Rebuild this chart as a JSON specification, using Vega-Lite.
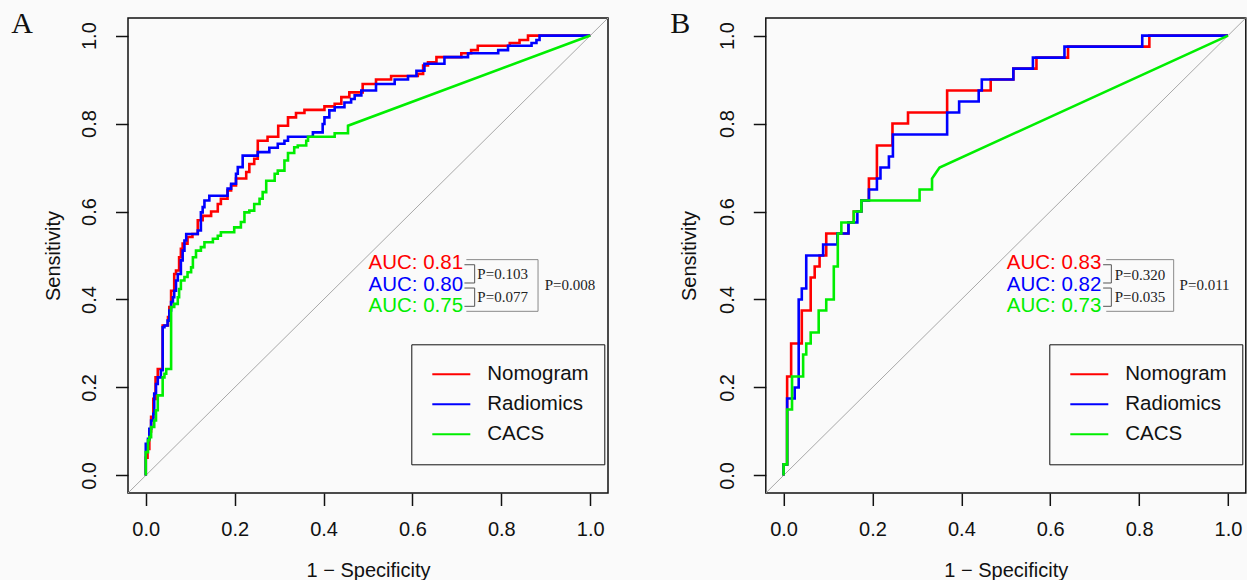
{
"$schema": "https://vega.github.io/schema/vega-lite/v6.json",
"background": "#fafafa",
"padding": {"left": 10, "top": 7, "right": 0, "bottom": 0},
"bounds": "flush",
"spacing": 157.8,
"config": {"view": {"stroke": "#111", "strokeWidth": 1.5}, "font": "Liberation Sans"},
"resolve": {"scale": {"color": "independent"}, "legend": {"color": "independent"}},
"datasets": {"roc": [
{"panel":"A","model":"Nomogram","fpr":0,"tpr":0},{"panel":"A","model":"Nomogram","fpr":0,"tpr":0.04},{"panel":"A","model":"Nomogram","fpr":0.004,"tpr":0.04},{"panel":"A","model":"Nomogram","fpr":0.004,"tpr":0.06},{"panel":"A","model":"Nomogram","fpr":0.008,"tpr":0.06},{"panel":"A","model":"Nomogram","fpr":0.008,"tpr":0.1},{"panel":"A","model":"Nomogram","fpr":0.012,"tpr":0.1},{"panel":"A","model":"Nomogram","fpr":0.012,"tpr":0.133},{"panel":"A","model":"Nomogram","fpr":0.017,"tpr":0.133},{"panel":"A","model":"Nomogram","fpr":0.017,"tpr":0.174},{"panel":"A","model":"Nomogram","fpr":0.022,"tpr":0.174},{"panel":"A","model":"Nomogram","fpr":0.022,"tpr":0.223},{"panel":"A","model":"Nomogram","fpr":0.027,"tpr":0.223},{"panel":"A","model":"Nomogram","fpr":0.027,"tpr":0.242},{"panel":"A","model":"Nomogram","fpr":0.038,"tpr":0.242},{"panel":"A","model":"Nomogram","fpr":0.038,"tpr":0.341},{"panel":"A","model":"Nomogram","fpr":0.05,"tpr":0.341},{"panel":"A","model":"Nomogram","fpr":0.05,"tpr":0.36},{"panel":"A","model":"Nomogram","fpr":0.053,"tpr":0.36},{"panel":"A","model":"Nomogram","fpr":0.053,"tpr":0.383},{"panel":"A","model":"Nomogram","fpr":0.057,"tpr":0.383},{"panel":"A","model":"Nomogram","fpr":0.057,"tpr":0.42},{"panel":"A","model":"Nomogram","fpr":0.064,"tpr":0.42},{"panel":"A","model":"Nomogram","fpr":0.064,"tpr":0.458},{"panel":"A","model":"Nomogram","fpr":0.068,"tpr":0.458},{"panel":"A","model":"Nomogram","fpr":0.068,"tpr":0.466},{"panel":"A","model":"Nomogram","fpr":0.075,"tpr":0.466},{"panel":"A","model":"Nomogram","fpr":0.075,"tpr":0.496},{"panel":"A","model":"Nomogram","fpr":0.079,"tpr":0.496},{"panel":"A","model":"Nomogram","fpr":0.079,"tpr":0.515},{"panel":"A","model":"Nomogram","fpr":0.083,"tpr":0.515},{"panel":"A","model":"Nomogram","fpr":0.083,"tpr":0.527},{"panel":"A","model":"Nomogram","fpr":0.094,"tpr":0.527},{"panel":"A","model":"Nomogram","fpr":0.094,"tpr":0.542},{"panel":"A","model":"Nomogram","fpr":0.105,"tpr":0.542},{"panel":"A","model":"Nomogram","fpr":0.105,"tpr":0.549},{"panel":"A","model":"Nomogram","fpr":0.117,"tpr":0.549},{"panel":"A","model":"Nomogram","fpr":0.117,"tpr":0.58},{"panel":"A","model":"Nomogram","fpr":0.128,"tpr":0.58},{"panel":"A","model":"Nomogram","fpr":0.128,"tpr":0.59},{"panel":"A","model":"Nomogram","fpr":0.147,"tpr":0.59},{"panel":"A","model":"Nomogram","fpr":0.147,"tpr":0.6},{"panel":"A","model":"Nomogram","fpr":0.162,"tpr":0.6},{"panel":"A","model":"Nomogram","fpr":0.162,"tpr":0.617},{"panel":"A","model":"Nomogram","fpr":0.169,"tpr":0.617},{"panel":"A","model":"Nomogram","fpr":0.169,"tpr":0.629},{"panel":"A","model":"Nomogram","fpr":0.184,"tpr":0.629},{"panel":"A","model":"Nomogram","fpr":0.184,"tpr":0.648},{"panel":"A","model":"Nomogram","fpr":0.192,"tpr":0.648},{"panel":"A","model":"Nomogram","fpr":0.192,"tpr":0.659},{"panel":"A","model":"Nomogram","fpr":0.203,"tpr":0.659},{"panel":"A","model":"Nomogram","fpr":0.203,"tpr":0.675},{"panel":"A","model":"Nomogram","fpr":0.226,"tpr":0.675},{"panel":"A","model":"Nomogram","fpr":0.226,"tpr":0.69},{"panel":"A","model":"Nomogram","fpr":0.233,"tpr":0.69},{"panel":"A","model":"Nomogram","fpr":0.233,"tpr":0.708},{"panel":"A","model":"Nomogram","fpr":0.244,"tpr":0.708},{"panel":"A","model":"Nomogram","fpr":0.244,"tpr":0.72},{"panel":"A","model":"Nomogram","fpr":0.252,"tpr":0.72},{"panel":"A","model":"Nomogram","fpr":0.252,"tpr":0.761},{"panel":"A","model":"Nomogram","fpr":0.274,"tpr":0.761},{"panel":"A","model":"Nomogram","fpr":0.274,"tpr":0.77},{"panel":"A","model":"Nomogram","fpr":0.298,"tpr":0.77},{"panel":"A","model":"Nomogram","fpr":0.298,"tpr":0.795},{"panel":"A","model":"Nomogram","fpr":0.32,"tpr":0.795},{"panel":"A","model":"Nomogram","fpr":0.32,"tpr":0.814},{"panel":"A","model":"Nomogram","fpr":0.338,"tpr":0.814},{"panel":"A","model":"Nomogram","fpr":0.338,"tpr":0.824},{"panel":"A","model":"Nomogram","fpr":0.357,"tpr":0.824},{"panel":"A","model":"Nomogram","fpr":0.357,"tpr":0.831},{"panel":"A","model":"Nomogram","fpr":0.402,"tpr":0.831},{"panel":"A","model":"Nomogram","fpr":0.402,"tpr":0.839},{"panel":"A","model":"Nomogram","fpr":0.425,"tpr":0.839},{"panel":"A","model":"Nomogram","fpr":0.425,"tpr":0.845},{"panel":"A","model":"Nomogram","fpr":0.44,"tpr":0.845},{"panel":"A","model":"Nomogram","fpr":0.44,"tpr":0.86},{"panel":"A","model":"Nomogram","fpr":0.458,"tpr":0.86},{"panel":"A","model":"Nomogram","fpr":0.458,"tpr":0.871},{"panel":"A","model":"Nomogram","fpr":0.488,"tpr":0.871},{"panel":"A","model":"Nomogram","fpr":0.488,"tpr":0.89},{"panel":"A","model":"Nomogram","fpr":0.518,"tpr":0.89},{"panel":"A","model":"Nomogram","fpr":0.518,"tpr":0.9},{"panel":"A","model":"Nomogram","fpr":0.552,"tpr":0.9},{"panel":"A","model":"Nomogram","fpr":0.552,"tpr":0.908},{"panel":"A","model":"Nomogram","fpr":0.612,"tpr":0.908},{"panel":"A","model":"Nomogram","fpr":0.612,"tpr":0.913},{"panel":"A","model":"Nomogram","fpr":0.624,"tpr":0.913},{"panel":"A","model":"Nomogram","fpr":0.624,"tpr":0.932},{"panel":"A","model":"Nomogram","fpr":0.635,"tpr":0.932},{"panel":"A","model":"Nomogram","fpr":0.635,"tpr":0.939},{"panel":"A","model":"Nomogram","fpr":0.654,"tpr":0.939},{"panel":"A","model":"Nomogram","fpr":0.654,"tpr":0.951},{"panel":"A","model":"Nomogram","fpr":0.71,"tpr":0.951},{"panel":"A","model":"Nomogram","fpr":0.71,"tpr":0.96},{"panel":"A","model":"Nomogram","fpr":0.732,"tpr":0.96},{"panel":"A","model":"Nomogram","fpr":0.732,"tpr":0.967},{"panel":"A","model":"Nomogram","fpr":0.747,"tpr":0.967},{"panel":"A","model":"Nomogram","fpr":0.747,"tpr":0.977},{"panel":"A","model":"Nomogram","fpr":0.819,"tpr":0.977},{"panel":"A","model":"Nomogram","fpr":0.819,"tpr":0.983},{"panel":"A","model":"Nomogram","fpr":0.841,"tpr":0.983},{"panel":"A","model":"Nomogram","fpr":0.841,"tpr":0.99},{"panel":"A","model":"Nomogram","fpr":0.86,"tpr":0.99},{"panel":"A","model":"Nomogram","fpr":0.86,"tpr":1},{"panel":"A","model":"Nomogram","fpr":1,"tpr":1},
{"panel":"A","model":"Radiomics","fpr":0,"tpr":0},{"panel":"A","model":"Radiomics","fpr":0,"tpr":0.072},{"panel":"A","model":"Radiomics","fpr":0.005,"tpr":0.072},{"panel":"A","model":"Radiomics","fpr":0.005,"tpr":0.083},{"panel":"A","model":"Radiomics","fpr":0.008,"tpr":0.083},{"panel":"A","model":"Radiomics","fpr":0.008,"tpr":0.106},{"panel":"A","model":"Radiomics","fpr":0.012,"tpr":0.106},{"panel":"A","model":"Radiomics","fpr":0.012,"tpr":0.125},{"panel":"A","model":"Radiomics","fpr":0.017,"tpr":0.125},{"panel":"A","model":"Radiomics","fpr":0.017,"tpr":0.14},{"panel":"A","model":"Radiomics","fpr":0.019,"tpr":0.14},{"panel":"A","model":"Radiomics","fpr":0.019,"tpr":0.186},{"panel":"A","model":"Radiomics","fpr":0.023,"tpr":0.186},{"panel":"A","model":"Radiomics","fpr":0.023,"tpr":0.208},{"panel":"A","model":"Radiomics","fpr":0.027,"tpr":0.208},{"panel":"A","model":"Radiomics","fpr":0.027,"tpr":0.223},{"panel":"A","model":"Radiomics","fpr":0.034,"tpr":0.223},{"panel":"A","model":"Radiomics","fpr":0.034,"tpr":0.239},{"panel":"A","model":"Radiomics","fpr":0.038,"tpr":0.239},{"panel":"A","model":"Radiomics","fpr":0.038,"tpr":0.337},{"panel":"A","model":"Radiomics","fpr":0.042,"tpr":0.337},{"panel":"A","model":"Radiomics","fpr":0.042,"tpr":0.341},{"panel":"A","model":"Radiomics","fpr":0.049,"tpr":0.341},{"panel":"A","model":"Radiomics","fpr":0.049,"tpr":0.352},{"panel":"A","model":"Radiomics","fpr":0.053,"tpr":0.352},{"panel":"A","model":"Radiomics","fpr":0.053,"tpr":0.375},{"panel":"A","model":"Radiomics","fpr":0.057,"tpr":0.375},{"panel":"A","model":"Radiomics","fpr":0.057,"tpr":0.394},{"panel":"A","model":"Radiomics","fpr":0.061,"tpr":0.394},{"panel":"A","model":"Radiomics","fpr":0.061,"tpr":0.405},{"panel":"A","model":"Radiomics","fpr":0.064,"tpr":0.405},{"panel":"A","model":"Radiomics","fpr":0.064,"tpr":0.42},{"panel":"A","model":"Radiomics","fpr":0.068,"tpr":0.42},{"panel":"A","model":"Radiomics","fpr":0.068,"tpr":0.443},{"panel":"A","model":"Radiomics","fpr":0.072,"tpr":0.443},{"panel":"A","model":"Radiomics","fpr":0.072,"tpr":0.458},{"panel":"A","model":"Radiomics","fpr":0.079,"tpr":0.458},{"panel":"A","model":"Radiomics","fpr":0.079,"tpr":0.489},{"panel":"A","model":"Radiomics","fpr":0.083,"tpr":0.489},{"panel":"A","model":"Radiomics","fpr":0.083,"tpr":0.511},{"panel":"A","model":"Radiomics","fpr":0.087,"tpr":0.511},{"panel":"A","model":"Radiomics","fpr":0.087,"tpr":0.534},{"panel":"A","model":"Radiomics","fpr":0.091,"tpr":0.534},{"panel":"A","model":"Radiomics","fpr":0.091,"tpr":0.549},{"panel":"A","model":"Radiomics","fpr":0.117,"tpr":0.549},{"panel":"A","model":"Radiomics","fpr":0.117,"tpr":0.557},{"panel":"A","model":"Radiomics","fpr":0.124,"tpr":0.557},{"panel":"A","model":"Radiomics","fpr":0.124,"tpr":0.598},{"panel":"A","model":"Radiomics","fpr":0.128,"tpr":0.598},{"panel":"A","model":"Radiomics","fpr":0.128,"tpr":0.61},{"panel":"A","model":"Radiomics","fpr":0.132,"tpr":0.61},{"panel":"A","model":"Radiomics","fpr":0.132,"tpr":0.625},{"panel":"A","model":"Radiomics","fpr":0.143,"tpr":0.625},{"panel":"A","model":"Radiomics","fpr":0.143,"tpr":0.636},{"panel":"A","model":"Radiomics","fpr":0.184,"tpr":0.636},{"panel":"A","model":"Radiomics","fpr":0.184,"tpr":0.652},{"panel":"A","model":"Radiomics","fpr":0.192,"tpr":0.652},{"panel":"A","model":"Radiomics","fpr":0.192,"tpr":0.663},{"panel":"A","model":"Radiomics","fpr":0.203,"tpr":0.663},{"panel":"A","model":"Radiomics","fpr":0.203,"tpr":0.686},{"panel":"A","model":"Radiomics","fpr":0.207,"tpr":0.686},{"panel":"A","model":"Radiomics","fpr":0.207,"tpr":0.701},{"panel":"A","model":"Radiomics","fpr":0.218,"tpr":0.701},{"panel":"A","model":"Radiomics","fpr":0.218,"tpr":0.727},{"panel":"A","model":"Radiomics","fpr":0.252,"tpr":0.727},{"panel":"A","model":"Radiomics","fpr":0.252,"tpr":0.735},{"panel":"A","model":"Radiomics","fpr":0.278,"tpr":0.735},{"panel":"A","model":"Radiomics","fpr":0.278,"tpr":0.745},{"panel":"A","model":"Radiomics","fpr":0.297,"tpr":0.745},{"panel":"A","model":"Radiomics","fpr":0.297,"tpr":0.754},{"panel":"A","model":"Radiomics","fpr":0.312,"tpr":0.754},{"panel":"A","model":"Radiomics","fpr":0.312,"tpr":0.761},{"panel":"A","model":"Radiomics","fpr":0.32,"tpr":0.761},{"panel":"A","model":"Radiomics","fpr":0.32,"tpr":0.77},{"panel":"A","model":"Radiomics","fpr":0.376,"tpr":0.77},{"panel":"A","model":"Radiomics","fpr":0.376,"tpr":0.78},{"panel":"A","model":"Radiomics","fpr":0.398,"tpr":0.78},{"panel":"A","model":"Radiomics","fpr":0.398,"tpr":0.799},{"panel":"A","model":"Radiomics","fpr":0.402,"tpr":0.799},{"panel":"A","model":"Radiomics","fpr":0.402,"tpr":0.814},{"panel":"A","model":"Radiomics","fpr":0.413,"tpr":0.814},{"panel":"A","model":"Radiomics","fpr":0.413,"tpr":0.83},{"panel":"A","model":"Radiomics","fpr":0.425,"tpr":0.83},{"panel":"A","model":"Radiomics","fpr":0.425,"tpr":0.837},{"panel":"A","model":"Radiomics","fpr":0.447,"tpr":0.837},{"panel":"A","model":"Radiomics","fpr":0.447,"tpr":0.848},{"panel":"A","model":"Radiomics","fpr":0.462,"tpr":0.848},{"panel":"A","model":"Radiomics","fpr":0.462,"tpr":0.856},{"panel":"A","model":"Radiomics","fpr":0.47,"tpr":0.856},{"panel":"A","model":"Radiomics","fpr":0.47,"tpr":0.864},{"panel":"A","model":"Radiomics","fpr":0.485,"tpr":0.864},{"panel":"A","model":"Radiomics","fpr":0.485,"tpr":0.875},{"panel":"A","model":"Radiomics","fpr":0.518,"tpr":0.875},{"panel":"A","model":"Radiomics","fpr":0.518,"tpr":0.89},{"panel":"A","model":"Radiomics","fpr":0.56,"tpr":0.89},{"panel":"A","model":"Radiomics","fpr":0.56,"tpr":0.9},{"panel":"A","model":"Radiomics","fpr":0.59,"tpr":0.9},{"panel":"A","model":"Radiomics","fpr":0.59,"tpr":0.908},{"panel":"A","model":"Radiomics","fpr":0.609,"tpr":0.908},{"panel":"A","model":"Radiomics","fpr":0.609,"tpr":0.92},{"panel":"A","model":"Radiomics","fpr":0.627,"tpr":0.92},{"panel":"A","model":"Radiomics","fpr":0.627,"tpr":0.936},{"panel":"A","model":"Radiomics","fpr":0.672,"tpr":0.936},{"panel":"A","model":"Radiomics","fpr":0.672,"tpr":0.951},{"panel":"A","model":"Radiomics","fpr":0.725,"tpr":0.951},{"panel":"A","model":"Radiomics","fpr":0.725,"tpr":0.96},{"panel":"A","model":"Radiomics","fpr":0.793,"tpr":0.96},{"panel":"A","model":"Radiomics","fpr":0.793,"tpr":0.967},{"panel":"A","model":"Radiomics","fpr":0.815,"tpr":0.967},{"panel":"A","model":"Radiomics","fpr":0.815,"tpr":0.977},{"panel":"A","model":"Radiomics","fpr":0.868,"tpr":0.977},{"panel":"A","model":"Radiomics","fpr":0.868,"tpr":0.983},{"panel":"A","model":"Radiomics","fpr":0.879,"tpr":0.983},{"panel":"A","model":"Radiomics","fpr":0.879,"tpr":0.99},{"panel":"A","model":"Radiomics","fpr":0.886,"tpr":0.99},{"panel":"A","model":"Radiomics","fpr":0.886,"tpr":1},{"panel":"A","model":"Radiomics","fpr":1,"tpr":1},
{"panel":"A","model":"CACS","fpr":0,"tpr":0},{"panel":"A","model":"CACS","fpr":0,"tpr":0.053},{"panel":"A","model":"CACS","fpr":0.005,"tpr":0.053},{"panel":"A","model":"CACS","fpr":0.005,"tpr":0.08},{"panel":"A","model":"CACS","fpr":0.008,"tpr":0.08},{"panel":"A","model":"CACS","fpr":0.008,"tpr":0.087},{"panel":"A","model":"CACS","fpr":0.012,"tpr":0.087},{"panel":"A","model":"CACS","fpr":0.012,"tpr":0.11},{"panel":"A","model":"CACS","fpr":0.019,"tpr":0.11},{"panel":"A","model":"CACS","fpr":0.019,"tpr":0.125},{"panel":"A","model":"CACS","fpr":0.023,"tpr":0.125},{"panel":"A","model":"CACS","fpr":0.023,"tpr":0.148},{"panel":"A","model":"CACS","fpr":0.027,"tpr":0.148},{"panel":"A","model":"CACS","fpr":0.027,"tpr":0.182},{"panel":"A","model":"CACS","fpr":0.038,"tpr":0.182},{"panel":"A","model":"CACS","fpr":0.038,"tpr":0.223},{"panel":"A","model":"CACS","fpr":0.042,"tpr":0.223},{"panel":"A","model":"CACS","fpr":0.042,"tpr":0.231},{"panel":"A","model":"CACS","fpr":0.046,"tpr":0.231},{"panel":"A","model":"CACS","fpr":0.046,"tpr":0.242},{"panel":"A","model":"CACS","fpr":0.057,"tpr":0.242},{"panel":"A","model":"CACS","fpr":0.057,"tpr":0.383},{"panel":"A","model":"CACS","fpr":0.064,"tpr":0.383},{"panel":"A","model":"CACS","fpr":0.064,"tpr":0.39},{"panel":"A","model":"CACS","fpr":0.072,"tpr":0.39},{"panel":"A","model":"CACS","fpr":0.072,"tpr":0.405},{"panel":"A","model":"CACS","fpr":0.075,"tpr":0.405},{"panel":"A","model":"CACS","fpr":0.075,"tpr":0.424},{"panel":"A","model":"CACS","fpr":0.079,"tpr":0.424},{"panel":"A","model":"CACS","fpr":0.079,"tpr":0.443},{"panel":"A","model":"CACS","fpr":0.087,"tpr":0.443},{"panel":"A","model":"CACS","fpr":0.087,"tpr":0.451},{"panel":"A","model":"CACS","fpr":0.094,"tpr":0.451},{"panel":"A","model":"CACS","fpr":0.094,"tpr":0.462},{"panel":"A","model":"CACS","fpr":0.102,"tpr":0.462},{"panel":"A","model":"CACS","fpr":0.102,"tpr":0.473},{"panel":"A","model":"CACS","fpr":0.106,"tpr":0.473},{"panel":"A","model":"CACS","fpr":0.106,"tpr":0.496},{"panel":"A","model":"CACS","fpr":0.113,"tpr":0.496},{"panel":"A","model":"CACS","fpr":0.113,"tpr":0.511},{"panel":"A","model":"CACS","fpr":0.124,"tpr":0.511},{"panel":"A","model":"CACS","fpr":0.124,"tpr":0.519},{"panel":"A","model":"CACS","fpr":0.132,"tpr":0.519},{"panel":"A","model":"CACS","fpr":0.132,"tpr":0.53},{"panel":"A","model":"CACS","fpr":0.151,"tpr":0.53},{"panel":"A","model":"CACS","fpr":0.151,"tpr":0.538},{"panel":"A","model":"CACS","fpr":0.162,"tpr":0.538},{"panel":"A","model":"CACS","fpr":0.162,"tpr":0.545},{"panel":"A","model":"CACS","fpr":0.169,"tpr":0.545},{"panel":"A","model":"CACS","fpr":0.169,"tpr":0.553},{"panel":"A","model":"CACS","fpr":0.199,"tpr":0.553},{"panel":"A","model":"CACS","fpr":0.199,"tpr":0.564},{"panel":"A","model":"CACS","fpr":0.214,"tpr":0.564},{"panel":"A","model":"CACS","fpr":0.214,"tpr":0.576},{"panel":"A","model":"CACS","fpr":0.222,"tpr":0.576},{"panel":"A","model":"CACS","fpr":0.222,"tpr":0.598},{"panel":"A","model":"CACS","fpr":0.233,"tpr":0.598},{"panel":"A","model":"CACS","fpr":0.233,"tpr":0.602},{"panel":"A","model":"CACS","fpr":0.244,"tpr":0.602},{"panel":"A","model":"CACS","fpr":0.244,"tpr":0.617},{"panel":"A","model":"CACS","fpr":0.256,"tpr":0.617},{"panel":"A","model":"CACS","fpr":0.256,"tpr":0.629},{"panel":"A","model":"CACS","fpr":0.263,"tpr":0.629},{"panel":"A","model":"CACS","fpr":0.263,"tpr":0.644},{"panel":"A","model":"CACS","fpr":0.271,"tpr":0.644},{"panel":"A","model":"CACS","fpr":0.271,"tpr":0.67},{"panel":"A","model":"CACS","fpr":0.29,"tpr":0.67},{"panel":"A","model":"CACS","fpr":0.29,"tpr":0.686},{"panel":"A","model":"CACS","fpr":0.297,"tpr":0.686},{"panel":"A","model":"CACS","fpr":0.297,"tpr":0.693},{"panel":"A","model":"CACS","fpr":0.312,"tpr":0.693},{"panel":"A","model":"CACS","fpr":0.312,"tpr":0.716},{"panel":"A","model":"CACS","fpr":0.32,"tpr":0.716},{"panel":"A","model":"CACS","fpr":0.32,"tpr":0.733},{"panel":"A","model":"CACS","fpr":0.334,"tpr":0.733},{"panel":"A","model":"CACS","fpr":0.334,"tpr":0.746},{"panel":"A","model":"CACS","fpr":0.342,"tpr":0.746},{"panel":"A","model":"CACS","fpr":0.342,"tpr":0.75},{"panel":"A","model":"CACS","fpr":0.361,"tpr":0.75},{"panel":"A","model":"CACS","fpr":0.361,"tpr":0.761},{"panel":"A","model":"CACS","fpr":0.365,"tpr":0.761},{"panel":"A","model":"CACS","fpr":0.365,"tpr":0.77},{"panel":"A","model":"CACS","fpr":0.425,"tpr":0.77},{"panel":"A","model":"CACS","fpr":0.425,"tpr":0.778},{"panel":"A","model":"CACS","fpr":0.455,"tpr":0.778},{"panel":"A","model":"CACS","fpr":0.455,"tpr":0.795},{"panel":"A","model":"CACS","fpr":1,"tpr":1},
{"panel":"B","model":"Nomogram","fpr":0,"tpr":0},{"panel":"B","model":"Nomogram","fpr":0,"tpr":0.025},{"panel":"B","model":"Nomogram","fpr":0.008,"tpr":0.025},{"panel":"B","model":"Nomogram","fpr":0.008,"tpr":0.225},{"panel":"B","model":"Nomogram","fpr":0.017,"tpr":0.225},{"panel":"B","model":"Nomogram","fpr":0.017,"tpr":0.3},{"panel":"B","model":"Nomogram","fpr":0.041,"tpr":0.3},{"panel":"B","model":"Nomogram","fpr":0.041,"tpr":0.375},{"panel":"B","model":"Nomogram","fpr":0.061,"tpr":0.375},{"panel":"B","model":"Nomogram","fpr":0.061,"tpr":0.45},{"panel":"B","model":"Nomogram","fpr":0.07,"tpr":0.45},{"panel":"B","model":"Nomogram","fpr":0.07,"tpr":0.475},{"panel":"B","model":"Nomogram","fpr":0.081,"tpr":0.475},{"panel":"B","model":"Nomogram","fpr":0.081,"tpr":0.5},{"panel":"B","model":"Nomogram","fpr":0.096,"tpr":0.5},{"panel":"B","model":"Nomogram","fpr":0.096,"tpr":0.55},{"panel":"B","model":"Nomogram","fpr":0.146,"tpr":0.55},{"panel":"B","model":"Nomogram","fpr":0.146,"tpr":0.575},{"panel":"B","model":"Nomogram","fpr":0.158,"tpr":0.575},{"panel":"B","model":"Nomogram","fpr":0.158,"tpr":0.6},{"panel":"B","model":"Nomogram","fpr":0.175,"tpr":0.6},{"panel":"B","model":"Nomogram","fpr":0.175,"tpr":0.625},{"panel":"B","model":"Nomogram","fpr":0.192,"tpr":0.625},{"panel":"B","model":"Nomogram","fpr":0.192,"tpr":0.675},{"panel":"B","model":"Nomogram","fpr":0.21,"tpr":0.675},{"panel":"B","model":"Nomogram","fpr":0.21,"tpr":0.75},{"panel":"B","model":"Nomogram","fpr":0.245,"tpr":0.75},{"panel":"B","model":"Nomogram","fpr":0.245,"tpr":0.8},{"panel":"B","model":"Nomogram","fpr":0.28,"tpr":0.8},{"panel":"B","model":"Nomogram","fpr":0.28,"tpr":0.825},{"panel":"B","model":"Nomogram","fpr":0.368,"tpr":0.825},{"panel":"B","model":"Nomogram","fpr":0.368,"tpr":0.875},{"panel":"B","model":"Nomogram","fpr":0.466,"tpr":0.875},{"panel":"B","model":"Nomogram","fpr":0.466,"tpr":0.9},{"panel":"B","model":"Nomogram","fpr":0.517,"tpr":0.9},{"panel":"B","model":"Nomogram","fpr":0.517,"tpr":0.925},{"panel":"B","model":"Nomogram","fpr":0.569,"tpr":0.925},{"panel":"B","model":"Nomogram","fpr":0.569,"tpr":0.95},{"panel":"B","model":"Nomogram","fpr":0.64,"tpr":0.95},{"panel":"B","model":"Nomogram","fpr":0.64,"tpr":0.975},{"panel":"B","model":"Nomogram","fpr":0.823,"tpr":0.975},{"panel":"B","model":"Nomogram","fpr":0.823,"tpr":1},{"panel":"B","model":"Nomogram","fpr":1,"tpr":1},
{"panel":"B","model":"Radiomics","fpr":0,"tpr":0},{"panel":"B","model":"Radiomics","fpr":0,"tpr":0.025},{"panel":"B","model":"Radiomics","fpr":0.008,"tpr":0.025},{"panel":"B","model":"Radiomics","fpr":0.008,"tpr":0.175},{"panel":"B","model":"Radiomics","fpr":0.025,"tpr":0.175},{"panel":"B","model":"Radiomics","fpr":0.025,"tpr":0.2},{"panel":"B","model":"Radiomics","fpr":0.034,"tpr":0.2},{"panel":"B","model":"Radiomics","fpr":0.034,"tpr":0.4},{"panel":"B","model":"Radiomics","fpr":0.041,"tpr":0.4},{"panel":"B","model":"Radiomics","fpr":0.041,"tpr":0.425},{"panel":"B","model":"Radiomics","fpr":0.051,"tpr":0.425},{"panel":"B","model":"Radiomics","fpr":0.051,"tpr":0.5},{"panel":"B","model":"Radiomics","fpr":0.089,"tpr":0.5},{"panel":"B","model":"Radiomics","fpr":0.089,"tpr":0.525},{"panel":"B","model":"Radiomics","fpr":0.121,"tpr":0.525},{"panel":"B","model":"Radiomics","fpr":0.121,"tpr":0.55},{"panel":"B","model":"Radiomics","fpr":0.146,"tpr":0.55},{"panel":"B","model":"Radiomics","fpr":0.146,"tpr":0.575},{"panel":"B","model":"Radiomics","fpr":0.166,"tpr":0.575},{"panel":"B","model":"Radiomics","fpr":0.166,"tpr":0.6},{"panel":"B","model":"Radiomics","fpr":0.175,"tpr":0.6},{"panel":"B","model":"Radiomics","fpr":0.175,"tpr":0.625},{"panel":"B","model":"Radiomics","fpr":0.192,"tpr":0.625},{"panel":"B","model":"Radiomics","fpr":0.192,"tpr":0.65},{"panel":"B","model":"Radiomics","fpr":0.21,"tpr":0.65},{"panel":"B","model":"Radiomics","fpr":0.21,"tpr":0.675},{"panel":"B","model":"Radiomics","fpr":0.218,"tpr":0.675},{"panel":"B","model":"Radiomics","fpr":0.218,"tpr":0.7},{"panel":"B","model":"Radiomics","fpr":0.237,"tpr":0.7},{"panel":"B","model":"Radiomics","fpr":0.237,"tpr":0.725},{"panel":"B","model":"Radiomics","fpr":0.246,"tpr":0.725},{"panel":"B","model":"Radiomics","fpr":0.246,"tpr":0.775},{"panel":"B","model":"Radiomics","fpr":0.368,"tpr":0.775},{"panel":"B","model":"Radiomics","fpr":0.368,"tpr":0.825},{"panel":"B","model":"Radiomics","fpr":0.395,"tpr":0.825},{"panel":"B","model":"Radiomics","fpr":0.395,"tpr":0.85},{"panel":"B","model":"Radiomics","fpr":0.439,"tpr":0.85},{"panel":"B","model":"Radiomics","fpr":0.439,"tpr":0.875},{"panel":"B","model":"Radiomics","fpr":0.446,"tpr":0.875},{"panel":"B","model":"Radiomics","fpr":0.446,"tpr":0.9},{"panel":"B","model":"Radiomics","fpr":0.517,"tpr":0.9},{"panel":"B","model":"Radiomics","fpr":0.517,"tpr":0.925},{"panel":"B","model":"Radiomics","fpr":0.561,"tpr":0.925},{"panel":"B","model":"Radiomics","fpr":0.561,"tpr":0.95},{"panel":"B","model":"Radiomics","fpr":0.632,"tpr":0.95},{"panel":"B","model":"Radiomics","fpr":0.632,"tpr":0.975},{"panel":"B","model":"Radiomics","fpr":0.807,"tpr":0.975},{"panel":"B","model":"Radiomics","fpr":0.807,"tpr":1},{"panel":"B","model":"Radiomics","fpr":1,"tpr":1},
{"panel":"B","model":"CACS","fpr":0,"tpr":0},{"panel":"B","model":"CACS","fpr":0,"tpr":0.025},{"panel":"B","model":"CACS","fpr":0.008,"tpr":0.025},{"panel":"B","model":"CACS","fpr":0.008,"tpr":0.15},{"panel":"B","model":"CACS","fpr":0.019,"tpr":0.15},{"panel":"B","model":"CACS","fpr":0.019,"tpr":0.225},{"panel":"B","model":"CACS","fpr":0.044,"tpr":0.225},{"panel":"B","model":"CACS","fpr":0.044,"tpr":0.275},{"panel":"B","model":"CACS","fpr":0.051,"tpr":0.275},{"panel":"B","model":"CACS","fpr":0.051,"tpr":0.3},{"panel":"B","model":"CACS","fpr":0.061,"tpr":0.3},{"panel":"B","model":"CACS","fpr":0.061,"tpr":0.325},{"panel":"B","model":"CACS","fpr":0.079,"tpr":0.325},{"panel":"B","model":"CACS","fpr":0.079,"tpr":0.375},{"panel":"B","model":"CACS","fpr":0.096,"tpr":0.375},{"panel":"B","model":"CACS","fpr":0.096,"tpr":0.4},{"panel":"B","model":"CACS","fpr":0.113,"tpr":0.4},{"panel":"B","model":"CACS","fpr":0.113,"tpr":0.475},{"panel":"B","model":"CACS","fpr":0.122,"tpr":0.475},{"panel":"B","model":"CACS","fpr":0.122,"tpr":0.55},{"panel":"B","model":"CACS","fpr":0.13,"tpr":0.55},{"panel":"B","model":"CACS","fpr":0.13,"tpr":0.575},{"panel":"B","model":"CACS","fpr":0.158,"tpr":0.575},{"panel":"B","model":"CACS","fpr":0.158,"tpr":0.6},{"panel":"B","model":"CACS","fpr":0.175,"tpr":0.6},{"panel":"B","model":"CACS","fpr":0.175,"tpr":0.625},{"panel":"B","model":"CACS","fpr":0.306,"tpr":0.625},{"panel":"B","model":"CACS","fpr":0.306,"tpr":0.65},{"panel":"B","model":"CACS","fpr":0.334,"tpr":0.65},{"panel":"B","model":"CACS","fpr":0.334,"tpr":0.675},{"panel":"B","model":"CACS","fpr":0.344,"tpr":0.69},{"panel":"B","model":"CACS","fpr":0.351,"tpr":0.7},{"panel":"B","model":"CACS","fpr":1,"tpr":1}
]},
"hconcat": [
{
"width": 480, "height": 475,
"title": {"text": "A", "anchor": "start", "frame": "group", "dx": -116.7, "dy": 45, "offset": 0, "baseline": "alphabetic", "font": "Liberation Serif", "fontSize": 30, "fontWeight": "normal", "color": "#111"},
"layer": [
{"data": {"values": [{}]}, "mark": {"type": "rule", "color": "#a8a8a8", "strokeWidth": 1},
 "encoding": {
  "x": {"datum": -0.04, "type": "quantitative", "scale": {"domain": [-0.04, 1.04], "nice": false, "zero": false},
   "axis": {"values": [0, 0.2, 0.4, 0.6, 0.8, 1], "format": ".1f", "title": "1 − Specificity", "grid": false, "domain": false, "tickColor": "#111", "tickWidth": 1.5, "tickSize": 12.5, "labelFont": "Liberation Sans", "labelFontSize": 20, "labelColor": "#111", "labelPadding": 14, "labelFlush": false, "labelOverlap": false, "titleFont": "Liberation Sans", "titleFontSize": 20, "titleFontWeight": "normal", "titleColor": "#111", "titleY": 77, "titleBaseline": "middle"}},
  "y": {"datum": -0.04, "type": "quantitative", "scale": {"domain": [-0.04, 1.04], "nice": false, "zero": false},
   "axis": {"values": [0, 0.2, 0.4, 0.6, 0.8, 1], "format": ".1f", "title": "Sensitivity", "grid": false, "domain": false, "tickColor": "#111", "tickWidth": 1.5, "tickSize": 12.5, "labelAngle": -90, "labelAlign": "center", "labelBaseline": "bottom", "labelPadding": 16, "labelFont": "Liberation Sans", "labelFontSize": 20, "labelColor": "#111", "labelFlush": false, "labelOverlap": false, "titleFont": "Liberation Sans", "titleFontSize": 20, "titleFontWeight": "normal", "titleColor": "#111", "titleX": -75, "titleBaseline": "middle"}},
  "x2": {"datum": 1.04}, "y2": {"datum": 1.04}}},
{"data": {"name": "roc"}, "transform": [{"filter": "datum.panel === 'A'"}],
 "mark": {"type": "line", "strokeWidth": 2.6},
 "encoding": {
  "x": {"field": "fpr", "type": "quantitative"},
  "y": {"field": "tpr", "type": "quantitative"},
  "color": {"field": "model", "type": "nominal", "scale": {"domain": ["Nomogram", "Radiomics", "CACS"], "range": ["#ff0000", "#0000ff", "#00ee00"]},
   "legend": {"orient": "none", "legendX": 283.3, "legendY": 326.3, "title": null, "direction": "vertical", "strokeColor": "#111", "padding": 15, "symbolType": "stroke", "symbolSize": 1444, "symbolStrokeWidth": 2, "clipHeight": 30, "rowPadding": 0, "symbolOffset": 5, "labelOffset": 16, "labelFont": "Liberation Sans", "labelFontSize": 20.5, "labelColor": "#111", "labelLimit": 300}},
  "order": {"value": null}}},
{"data": {"values": [{}]}, "mark": {"type": "text", "text": "AUC: 0.81", "align": "right", "baseline": "middle", "font": "Liberation Sans", "fontSize": 20.5, "color": "#ff0000"}, "encoding": {"x": {"datum": 0.714, "type": "quantitative"}, "y": {"datum": 0.483, "type": "quantitative"}}},
{"data": {"values": [{}]}, "mark": {"type": "text", "text": "AUC: 0.80", "align": "right", "baseline": "middle", "font": "Liberation Sans", "fontSize": 20.5, "color": "#0000ff"}, "encoding": {"x": {"datum": 0.714, "type": "quantitative"}, "y": {"datum": 0.434, "type": "quantitative"}}},
{"data": {"values": [{}]}, "mark": {"type": "text", "text": "AUC: 0.75", "align": "right", "baseline": "middle", "font": "Liberation Sans", "fontSize": 20.5, "color": "#00ee00"}, "encoding": {"x": {"datum": 0.714, "type": "quantitative"}, "y": {"datum": 0.3845, "type": "quantitative"}}},
{"data": {"values": [{}]}, "mark": {"type": "text", "text": "P=0.103", "align": "left", "baseline": "middle", "font": "Liberation Serif", "fontSize": 15, "color": "#222"}, "encoding": {"x": {"datum": 0.746, "type": "quantitative"}, "y": {"datum": 0.458, "type": "quantitative"}}},
{"data": {"values": [{}]}, "mark": {"type": "text", "text": "P=0.077", "align": "left", "baseline": "middle", "font": "Liberation Serif", "fontSize": 15, "color": "#222"}, "encoding": {"x": {"datum": 0.746, "type": "quantitative"}, "y": {"datum": 0.405, "type": "quantitative"}}},
{"data": {"values": [{}]}, "mark": {"type": "text", "text": "P=0.008", "align": "left", "baseline": "middle", "font": "Liberation Serif", "fontSize": 15, "color": "#222"}, "encoding": {"x": {"datum": 0.8975, "type": "quantitative"}, "y": {"datum": 0.434, "type": "quantitative"}}},
{"data": {"values": [{}]}, "mark": {"type": "rule", "color": "#555", "strokeWidth": 1}, "encoding": {"x": {"datum": 0.717, "type": "quantitative"}, "x2": {"datum": 0.74}, "y": {"datum": 0.479, "type": "quantitative"}}},
{"data": {"values": [{}]}, "mark": {"type": "rule", "color": "#555", "strokeWidth": 1}, "encoding": {"x": {"datum": 0.74, "type": "quantitative"}, "y": {"datum": 0.479, "type": "quantitative"}, "y2": {"datum": 0.4375}}},
{"data": {"values": [{}]}, "mark": {"type": "rule", "color": "#555", "strokeWidth": 1}, "encoding": {"x": {"datum": 0.717, "type": "quantitative"}, "x2": {"datum": 0.74}, "y": {"datum": 0.4375, "type": "quantitative"}}},
{"data": {"values": [{}]}, "mark": {"type": "rule", "color": "#555", "strokeWidth": 1}, "encoding": {"x": {"datum": 0.717, "type": "quantitative"}, "x2": {"datum": 0.74}, "y": {"datum": 0.426, "type": "quantitative"}}},
{"data": {"values": [{}]}, "mark": {"type": "rule", "color": "#555", "strokeWidth": 1}, "encoding": {"x": {"datum": 0.74, "type": "quantitative"}, "y": {"datum": 0.426, "type": "quantitative"}, "y2": {"datum": 0.3845}}},
{"data": {"values": [{}]}, "mark": {"type": "rule", "color": "#555", "strokeWidth": 1}, "encoding": {"x": {"datum": 0.717, "type": "quantitative"}, "x2": {"datum": 0.74}, "y": {"datum": 0.3845, "type": "quantitative"}}},
{"data": {"values": [{}]}, "mark": {"type": "rule", "color": "#8a8a8a", "strokeWidth": 1}, "encoding": {"x": {"datum": 0.7213, "type": "quantitative"}, "x2": {"datum": 0.8826}, "y": {"datum": 0.4906, "type": "quantitative"}}},
{"data": {"values": [{}]}, "mark": {"type": "rule", "color": "#8a8a8a", "strokeWidth": 1}, "encoding": {"x": {"datum": 0.8826, "type": "quantitative"}, "y": {"datum": 0.4906, "type": "quantitative"}, "y2": {"datum": 0.3731}}},
{"data": {"values": [{}]}, "mark": {"type": "rule", "color": "#8a8a8a", "strokeWidth": 1}, "encoding": {"x": {"datum": 0.7213, "type": "quantitative"}, "x2": {"datum": 0.8826}, "y": {"datum": 0.3731, "type": "quantitative"}}}
]
},
{
"width": 480, "height": 475,
"title": {"text": "B", "anchor": "start", "frame": "group", "dx": -95.5, "dy": 45, "offset": 0, "baseline": "alphabetic", "font": "Liberation Serif", "fontSize": 30, "fontWeight": "normal", "color": "#111"},
"layer": [
{"data": {"values": [{}]}, "mark": {"type": "rule", "color": "#a8a8a8", "strokeWidth": 1},
 "encoding": {
  "x": {"datum": -0.04, "type": "quantitative", "scale": {"domain": [-0.04, 1.04], "nice": false, "zero": false},
   "axis": {"values": [0, 0.2, 0.4, 0.6, 0.8, 1], "format": ".1f", "title": "1 − Specificity", "grid": false, "domain": false, "tickColor": "#111", "tickWidth": 1.5, "tickSize": 12.5, "labelFont": "Liberation Sans", "labelFontSize": 20, "labelColor": "#111", "labelPadding": 14, "labelFlush": false, "labelOverlap": false, "titleFont": "Liberation Sans", "titleFontSize": 20, "titleFontWeight": "normal", "titleColor": "#111", "titleY": 77, "titleBaseline": "middle"}},
  "y": {"datum": -0.04, "type": "quantitative", "scale": {"domain": [-0.04, 1.04], "nice": false, "zero": false},
   "axis": {"values": [0, 0.2, 0.4, 0.6, 0.8, 1], "format": ".1f", "title": "Sensitivity", "grid": false, "domain": false, "tickColor": "#111", "tickWidth": 1.5, "tickSize": 12.5, "labelAngle": -90, "labelAlign": "center", "labelBaseline": "bottom", "labelPadding": 16, "labelFont": "Liberation Sans", "labelFontSize": 20, "labelColor": "#111", "labelFlush": false, "labelOverlap": false, "titleFont": "Liberation Sans", "titleFontSize": 20, "titleFontWeight": "normal", "titleColor": "#111", "titleX": -76, "titleBaseline": "middle"}},
  "x2": {"datum": 1.04}, "y2": {"datum": 1.04}}},
{"data": {"name": "roc"}, "transform": [{"filter": "datum.panel === 'B'"}],
 "mark": {"type": "line", "strokeWidth": 2.6},
 "encoding": {
  "x": {"field": "fpr", "type": "quantitative"},
  "y": {"field": "tpr", "type": "quantitative"},
  "color": {"field": "model", "type": "nominal", "scale": {"domain": ["Nomogram", "Radiomics", "CACS"], "range": ["#ff0000", "#0000ff", "#00ee00"]},
   "legend": {"orient": "none", "legendX": 283.5, "legendY": 326.3, "title": null, "direction": "vertical", "strokeColor": "#111", "padding": 15, "symbolType": "stroke", "symbolSize": 1444, "symbolStrokeWidth": 2, "clipHeight": 30, "rowPadding": 0, "symbolOffset": 5, "labelOffset": 16, "labelFont": "Liberation Sans", "labelFontSize": 20.5, "labelColor": "#111", "labelLimit": 300}},
  "order": {"value": null}}},
{"data": {"values": [{}]}, "mark": {"type": "text", "text": "AUC: 0.83", "align": "right", "baseline": "middle", "font": "Liberation Sans", "fontSize": 20.5, "color": "#ff0000"}, "encoding": {"x": {"datum": 0.715, "type": "quantitative"}, "y": {"datum": 0.483, "type": "quantitative"}}},
{"data": {"values": [{}]}, "mark": {"type": "text", "text": "AUC: 0.82", "align": "right", "baseline": "middle", "font": "Liberation Sans", "fontSize": 20.5, "color": "#0000ff"}, "encoding": {"x": {"datum": 0.715, "type": "quantitative"}, "y": {"datum": 0.434, "type": "quantitative"}}},
{"data": {"values": [{}]}, "mark": {"type": "text", "text": "AUC: 0.73", "align": "right", "baseline": "middle", "font": "Liberation Sans", "fontSize": 20.5, "color": "#00ee00"}, "encoding": {"x": {"datum": 0.715, "type": "quantitative"}, "y": {"datum": 0.3845, "type": "quantitative"}}},
{"data": {"values": [{}]}, "mark": {"type": "text", "text": "P=0.320", "align": "left", "baseline": "middle", "font": "Liberation Serif", "fontSize": 15, "color": "#222"}, "encoding": {"x": {"datum": 0.745, "type": "quantitative"}, "y": {"datum": 0.456, "type": "quantitative"}}},
{"data": {"values": [{}]}, "mark": {"type": "text", "text": "P=0.035", "align": "left", "baseline": "middle", "font": "Liberation Serif", "fontSize": 15, "color": "#222"}, "encoding": {"x": {"datum": 0.745, "type": "quantitative"}, "y": {"datum": 0.405, "type": "quantitative"}}},
{"data": {"values": [{}]}, "mark": {"type": "text", "text": "P=0.011", "align": "left", "baseline": "middle", "font": "Liberation Serif", "fontSize": 15, "color": "#222"}, "encoding": {"x": {"datum": 0.891, "type": "quantitative"}, "y": {"datum": 0.434, "type": "quantitative"}}},
{"data": {"values": [{}]}, "mark": {"type": "rule", "color": "#555", "strokeWidth": 1}, "encoding": {"x": {"datum": 0.719, "type": "quantitative"}, "x2": {"datum": 0.7375}, "y": {"datum": 0.479, "type": "quantitative"}}},
{"data": {"values": [{}]}, "mark": {"type": "rule", "color": "#555", "strokeWidth": 1}, "encoding": {"x": {"datum": 0.7375, "type": "quantitative"}, "y": {"datum": 0.479, "type": "quantitative"}, "y2": {"datum": 0.4375}}},
{"data": {"values": [{}]}, "mark": {"type": "rule", "color": "#555", "strokeWidth": 1}, "encoding": {"x": {"datum": 0.719, "type": "quantitative"}, "x2": {"datum": 0.7375}, "y": {"datum": 0.4375, "type": "quantitative"}}},
{"data": {"values": [{}]}, "mark": {"type": "rule", "color": "#555", "strokeWidth": 1}, "encoding": {"x": {"datum": 0.719, "type": "quantitative"}, "x2": {"datum": 0.7375}, "y": {"datum": 0.426, "type": "quantitative"}}},
{"data": {"values": [{}]}, "mark": {"type": "rule", "color": "#555", "strokeWidth": 1}, "encoding": {"x": {"datum": 0.7375, "type": "quantitative"}, "y": {"datum": 0.426, "type": "quantitative"}, "y2": {"datum": 0.3845}}},
{"data": {"values": [{}]}, "mark": {"type": "rule", "color": "#555", "strokeWidth": 1}, "encoding": {"x": {"datum": 0.719, "type": "quantitative"}, "x2": {"datum": 0.7375}, "y": {"datum": 0.3845, "type": "quantitative"}}},
{"data": {"values": [{}]}, "mark": {"type": "rule", "color": "#8a8a8a", "strokeWidth": 1}, "encoding": {"x": {"datum": 0.726, "type": "quantitative"}, "x2": {"datum": 0.8777}, "y": {"datum": 0.4906, "type": "quantitative"}}},
{"data": {"values": [{}]}, "mark": {"type": "rule", "color": "#8a8a8a", "strokeWidth": 1}, "encoding": {"x": {"datum": 0.8777, "type": "quantitative"}, "y": {"datum": 0.4906, "type": "quantitative"}, "y2": {"datum": 0.3731}}},
{"data": {"values": [{}]}, "mark": {"type": "rule", "color": "#8a8a8a", "strokeWidth": 1}, "encoding": {"x": {"datum": 0.726, "type": "quantitative"}, "x2": {"datum": 0.8777}, "y": {"datum": 0.3731, "type": "quantitative"}}}
]
}
]
}
